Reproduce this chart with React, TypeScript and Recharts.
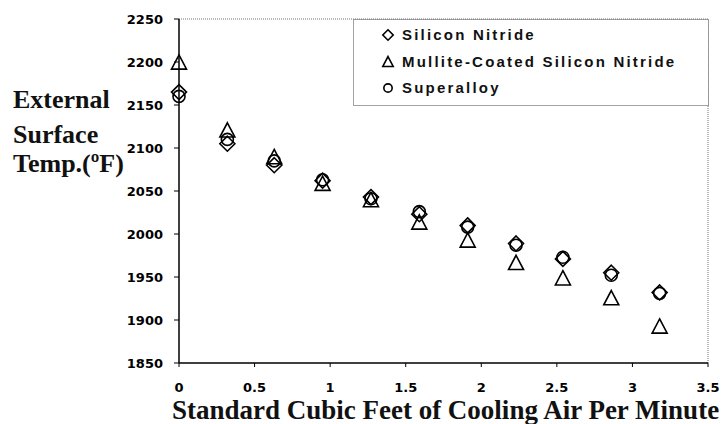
import React from "react";
import { ScatterChart, Scatter, XAxis, YAxis, Legend, ReferenceLine } from "recharts";

// cooling air flow (SCFM) for each measurement
const xValues = [0, 0.32, 0.63, 0.95, 1.27, 1.59, 1.91, 2.23, 2.54, 2.86, 3.18];

// external surface temperature (°F)
const siliconNitride = [2165, 2105, 2080, 2062, 2043, 2023, 2010, 1989, 1971, 1955, 1932];
const mulliteCoated = [2200, 2121, 2090, 2059, 2040, 2014, 1993, 1967, 1949, 1926, 1893];
const superalloy = [2160, 2110, 2085, 2063, 2041, 2026, 2008, 1987, 1973, 1952, 1931];

const seriesNames = ["Silicon Nitride", "Mullite-Coated Silicon Nitride", "Superalloy"];
const seriesKinds = ["diamond", "triangle", "circle"];

const xTicks = [0, 0.5, 1, 1.5, 2, 2.5, 3, 3.5];
const yTicks = [1850, 1900, 1950, 2000, 2050, 2100, 2150, 2200, 2250];

const toPoints = (ys: number[]) => ys.map((y, i) => ({ x: xValues[i], y }));

const SANS = "'Liberation Sans', Arial, sans-serif";
const SERIF = "'Liberation Serif', 'Times New Roman', serif";

function Marker({ kind, cx, cy, size }: { kind: string; cx: number; cy: number; size: number }) {
  const common = { fill: "none", stroke: "#000", strokeWidth: 1.6 };
  if (kind === "diamond") {
    return (
      <path
        d={`M${cx},${cy - size} L${cx + size},${cy} L${cx},${cy + size} L${cx - size},${cy} Z`}
        {...common}
      />
    );
  }
  if (kind === "triangle") {
    const h = size * 0.95;
    return (
      <path
        d={`M${cx},${cy - h} L${cx + size},${cy + h} L${cx - size},${cy + h} Z`}
        {...common}
        strokeLinejoin="miter"
      />
    );
  }
  return <circle cx={cx} cy={cy} r={size * 0.8} {...common} />;
}

function LegendBox() {
  return (
    <svg width={356} height={87} style={{ display: "block" }}>
      <rect x={0.5} y={0.5} width={355} height={86} fill="#fff" stroke="#444" strokeDasharray="1 1" />
      {seriesNames.map((name, i) => {
        const cy = 16 + i * 26.5;
        return (
          <g key={name}>
            <Marker kind={seriesKinds[i]} cx={35} cy={cy} size={5.2} />
            <text
              x={49}
              y={cy + 5}
              fontFamily={SANS}
              fontWeight="bold"
              fontSize={15}
              letterSpacing={2.2}
              fill="#111"
            >
              {name}
            </text>
          </g>
        );
      })}
    </svg>
  );
}

const tickStyle = {
  fill: "#000",
  fontSize: 13,
  fontWeight: "bold",
  fontFamily: "'DejaVu Sans', sans-serif",
};

export default function App() {
  const data = [toPoints(siliconNitride), toPoints(mulliteCoated), toPoints(superalloy)];

  return (
    <div style={{ position: "absolute", left: 0, top: 0, background: "#fff" }}>
      <ScatterChart width={726} height={424} margin={{ top: 19, right: 18, bottom: 0, left: 0 }}>
        <XAxis
          type="number"
          dataKey="x"
          domain={[0, 3.5]}
          ticks={xTicks}
          interval={0}
          height={61}
          tickSize={4}
          tickMargin={16}
          axisLine={{ stroke: "#000", strokeWidth: 1.5 }}
          tickLine={{ stroke: "#000" }}
          tick={tickStyle}
          label={(props: any) => {
            const vb = props.viewBox;
            return (
              <text
                x={vb.x + vb.width / 2 + 2}
                y={vb.y + 56}
                textAnchor="middle"
                fontFamily={SERIF}
                fontWeight="bold"
                fontSize={27}
                fill="#111"
              >
                Standard Cubic Feet of Cooling Air Per Minute
              </text>
            );
          }}
        />
        <YAxis
          type="number"
          dataKey="y"
          domain={[1850, 2250]}
          ticks={yTicks}
          interval={0}
          width={179}
          tickSize={5}
          tickMargin={11}
          axisLine={{ stroke: "#000", strokeWidth: 1.5 }}
          tickLine={{ stroke: "#000" }}
          tick={tickStyle}
          label={(props: any) => {
            const vb = props.viewBox;
            const lines = ["External", "Surface", "Temp.(ºF)"];
            const base = [89, 124, 153];
            return (
              <g>
                {lines.map((t, i) => (
                  <text
                    key={t}
                    x={13}
                    y={vb.y + base[i]}
                    fontFamily={SERIF}
                    fontWeight="bold"
                    fontSize={26}
                    fill="#111"
                  >
                    {t}
                  </text>
                ))}
              </g>
            );
          }}
        />
        <ReferenceLine y={2250} stroke="#777" strokeDasharray="1 1" />
        <ReferenceLine x={3.5} stroke="#777" strokeDasharray="1 1" />
        <Legend
          layout="horizontal"
          verticalAlign="middle"
          align="center"
          wrapperStyle={{ left: 353, top: 19, width: 356, height: 87 }}
          content={() => <LegendBox />}
        />
        {data.map((pts, i) => (
          <Scatter
            key={seriesNames[i]}
            name={seriesNames[i]}
            data={pts}
            isAnimationActive={false}
            shape={(p: any) => <Marker kind={seriesKinds[i]} cx={p.cx} cy={p.cy} size={7.5} />}
          />
        ))}
      </ScatterChart>
    </div>
  );
}
